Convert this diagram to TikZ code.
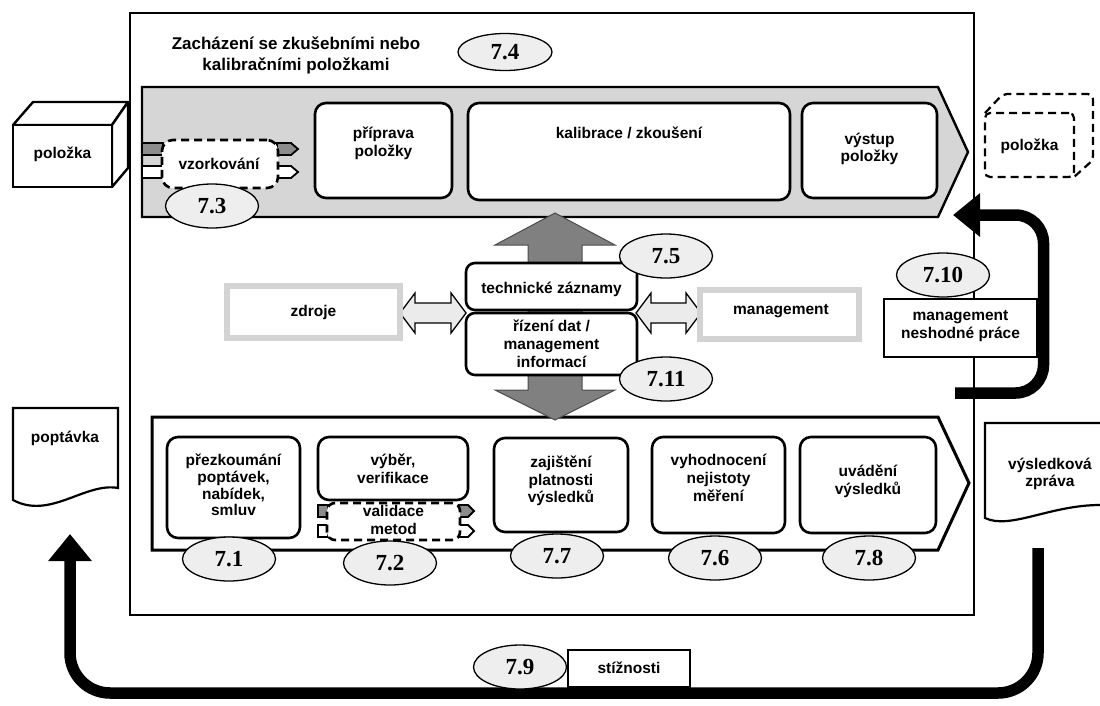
\documentclass[tikz,border=0pt]{standalone}
\usepackage{fontspec}
\setmainfont{Liberation Sans}
\newfontfamily\numfont{Liberation Serif}
\usetikzlibrary{shapes.geometric,arrows.meta}
\definecolor{bandgray}{HTML}{D6D6D6}
\definecolor{darkarrow}{HTML}{808080}
\definecolor{ellfill}{HTML}{EEEEEE}
\definecolor{lightarrow}{HTML}{EBEBEB}
\definecolor{resframe}{HTML}{D3D3D3}
\definecolor{tabgray}{HTML}{8C8C8C}
\begin{document}
\begin{tikzpicture}[x=1pt,y=-1pt,
  box/.style={draw=black,line width=2.6pt,rounded corners=11pt,fill=white,inner sep=0pt},
  dbox/.style={box,dash pattern=on 8pt off 5pt},
  lbl/.style={font=\bfseries\fontsize{15.5}{17.8}\selectfont,align=center,inner sep=0pt},
  ttl/.style={font=\bfseries\fontsize{17}{21}\selectfont,align=center,inner sep=0pt},
  num/.style={draw=black,line width=1.3pt,ellipse,fill=ellfill,minimum width=93pt,minimum height=44pt,inner sep=0pt,font=\numfont\bfseries\fontsize{23}{23}\selectfont},
  tab/.style={draw=black,line width=1.8pt},
  dbl/.style={draw=black,line width=1.3pt,fill=lightarrow},
  grayframe/.style={draw=resframe,line width=6.5pt,fill=white,inner sep=0pt},
  plainbox/.style={draw=black,fill=white,inner sep=0pt},
  bigloop/.style={line width=11.5pt,-{Triangle[length=27pt,width=42pt]}},
  docshape/.style={draw=black,fill=white,line width=2.2pt},
]
\useasboundingbox (0,0) rectangle (1100,705);

% main frame
\draw[line width=2.8pt] (130,13) rectangle (974,615);

% title
\node[ttl] (title) at (296,55) {Zacházení se zkušebními nebo\\kalibračními položkami};

% bands
\draw[fill=bandgray,line width=2.4pt] (142,87) -- (938,87) -- (968,152) -- (938,217) -- (142,217) -- cycle;
\draw[fill=white,line width=3pt] (152,417) -- (938,417) -- (969,483) -- (938,550) -- (152,550) -- cycle;

% top band boxes
\node[box,minimum width=137pt,minimum height=95pt] (prip) at (383.5,150.5) {};
\node[lbl] at (383.5,143.5) {příprava\\položky};
\node[box,minimum width=322pt,minimum height=97pt] (kal) at (629,151.5) {};
\node[lbl] at (629,133) {kalibrace / zkoušení};
\node[box,minimum width=135pt,minimum height=95pt] (vyst) at (869.5,150.5) {};
\node[lbl] at (869.5,149) {výstup\\položky};

% vzorkovani tabs
\draw[tab,fill=tabgray] (142,143) rectangle (163,155);
\draw[tab,fill=white] (142,166) rectangle (163,178);
\draw[tab,fill=tabgray] (277,143) -- (291,143) -- (298,149) -- (291,155) -- (277,155) -- cycle;
\draw[tab,fill=white] (277,166) -- (291,166) -- (298,172) -- (291,178) -- (277,178) -- cycle;
\node[dbox,minimum width=116pt,minimum height=48pt] (vzork) at (220,164) {};
\node[lbl] at (219,164) {vzorkování};

% bottom band boxes
\node[box,minimum width=133pt,minimum height=101pt] (prez) at (233.5,487.5) {};
\node[lbl,font=\bfseries\fontsize{15.5}{16.8}\selectfont] at (233.5,485) {přezkoumání\\poptávek,\\nabídek,\\smluv};
\node[box,minimum width=150pt,minimum height=63pt] (vyb) at (393,468.5) {};
\node[lbl] at (393,469) {výběr,\\verifikace};
\draw[tab,fill=tabgray] (318,505) rectangle (328,517);
\draw[tab,fill=white] (318,525) rectangle (328,537);
\draw[tab,fill=tabgray] (459,505) -- (468,505) -- (474,511) -- (468,517) -- (459,517) -- cycle;
\draw[tab,fill=white] (459,525) -- (468,525) -- (474,531) -- (468,537) -- (459,537) -- cycle;
\node[dbox,rounded corners=8pt,minimum width=133pt,minimum height=37pt] (valid) at (393.5,521.5) {};
\node[lbl,font=\bfseries\fontsize{15.5}{18}\selectfont] at (393.5,520) {validace\\metod};
\node[box,minimum width=134pt,minimum height=94pt] (zaj) at (561,485) {};
\node[lbl] at (561,481) {zajištění\\platnosti\\výsledků};
\node[box,minimum width=133pt,minimum height=96pt] (vyh) at (718.5,485) {};
\node[lbl] at (718.5,478) {vyhodnocení\\nejistoty\\měření};
\node[box,minimum width=136pt,minimum height=96pt] (uva) at (868,485) {};
\node[lbl] at (868,481) {uvádění\\výsledků};

% central dark double arrow
\draw[fill=darkarrow,draw=black!70,line width=1pt] (555,213) -- (615,245) -- (582,245) -- (582,390) -- (615,390) -- (555,420) -- (495,390) -- (528,390) -- (528,245) -- (495,245) -- cycle;
\node[box,rounded corners=9pt,minimum width=171pt,minimum height=47pt] (tz) at (551.5,286.5) {};
\node[lbl] at (551.5,289) {technické záznamy};
\node[box,rounded corners=9pt,minimum width=171pt,minimum height=62pt] (rd) at (551.5,344) {};
\node[lbl] at (551.5,343.5) {řízení dat /\\management\\informací};

% light double arrows
\draw[dbl] (400,313) -- (415,293) -- (415,303) -- (451,303) -- (451,293) -- (466,313) -- (451,333) -- (451,323) -- (415,323) -- (415,333) -- cycle;
\draw[dbl] (636,313) -- (651,293) -- (651,303) -- (686,303) -- (686,293) -- (701,313) -- (686,333) -- (686,323) -- (651,323) -- (651,333) -- cycle;

% resources / management
\node[grayframe,minimum width=173pt,minimum height=52pt] (zdroje) at (313.5,312) {};
\node[lbl] at (313.5,312) {zdroje};
\node[grayframe,minimum width=159pt,minimum height=49pt] (mgmt) at (779.5,314.5) {};
\node[lbl] at (781,311) {management};

% left cube (item)
\draw[line width=2.4pt,fill=white,line join=round] (13,125) -- (33,102) -- (128,102) -- (112,125) -- cycle;
\draw[line width=2.4pt,fill=white,line join=round] (112,125) -- (128,102) -- (128,168) -- (112,187) -- cycle;
\node[draw=black,line width=2.4pt,fill=white,minimum width=99pt,minimum height=62pt,inner sep=0pt] (itemL) at (62.5,156) {};
\node[lbl] at (62.5,154) {položka};

% right dashed cube
\draw[line width=2.2pt,dash pattern=on 8pt off 5pt,rounded corners=5pt] (985,113) -- (1003,94) -- (1093,94) -- (1093,160) -- (1074,177);
\node[draw=black,line width=2.2pt,dash pattern=on 8pt off 5pt,rounded corners=5pt,minimum width=89pt,minimum height=64pt,inner sep=0pt] (itemR) at (1029.5,145) {};
\node[lbl] at (1029.5,146) {položka};

% documents
\filldraw[docshape] (13,408) -- (118,408) -- (118,488) .. controls (85,482) and (50,520) .. (13,500) -- cycle;
\node[lbl] (poptavka) at (65,438) {poptávka};
\filldraw[docshape] (1100,423) -- (985,423) -- (985,518) .. controls (1010,530) and (1050,505) .. (1100,505);
\node[lbl] (zprava) at (1050,474) {výsledková\\zpráva};

% loops
\coordinate (fbStart) at (955,393);
\coordinate (fbEnd) at (953,215);
\draw[bigloop,rounded corners=28pt] (fbStart) -- (1043.5,393) -- (1043.5,215) -- (fbEnd);
\coordinate (cStart) at (1038,548);
\coordinate (cEnd) at (70,534);
\draw[bigloop,rounded corners=40pt] (cStart) -- (1038,693) -- (70,693) -- (cEnd);

% nonconforming work
\node[plainbox,line width=2.6pt,minimum width=153pt,minimum height=58pt] (nesh) at (960.5,328) {};
\node[lbl] at (960.5,326) {management\\neshodné práce};

% complaints
\node[plainbox,line width=1.8pt,minimum width=122pt,minimum height=37pt] (stiz) at (629,668.5) {};
\node[lbl] at (629,668) {stížnosti};

% clause numbers
\node[num,minimum width=94pt,minimum height=37pt] (n74) at (505,52) {7.4};
\node[num] (n73) at (212,206) {7.3};
\node[num] (n75) at (666,256) {7.5};
\node[num] (n711) at (666,379) {7.11};
\node[num] (n710) at (943,275) {7.10};
\node[num] (n71) at (229,559) {7.1};
\node[num] (n72) at (390,563) {7.2};
\node[num] (n77) at (557,556) {7.7};
\node[num] (n76) at (715,558) {7.6};
\node[num] (n78) at (869,558) {7.8};
\node[num] (n79) at (520,667) {7.9};
\end{tikzpicture}
\end{document}
